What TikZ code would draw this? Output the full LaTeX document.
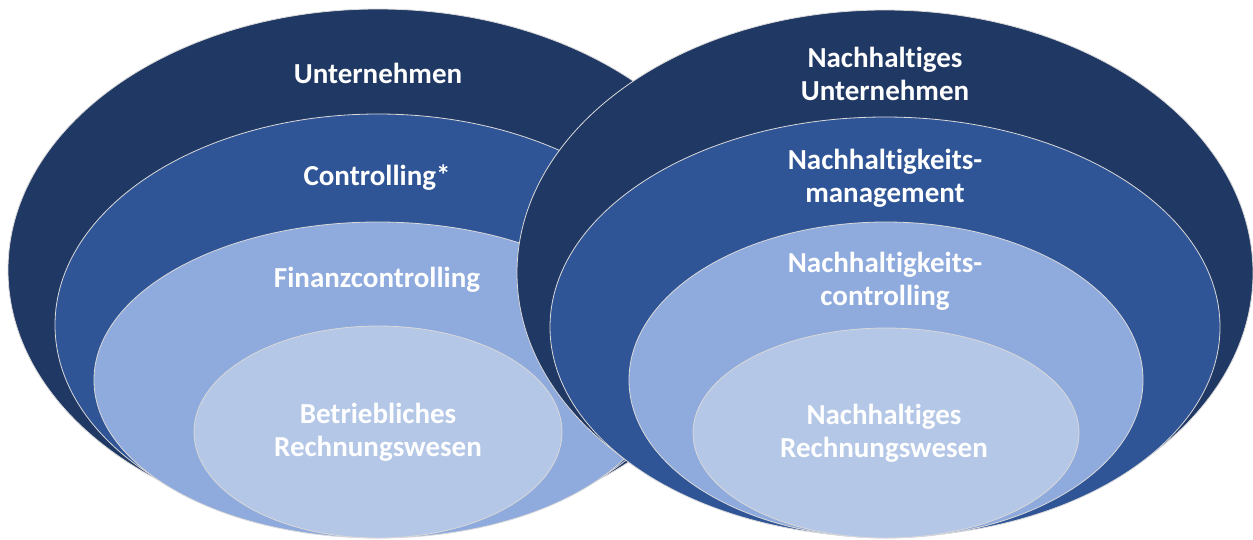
\documentclass[tikz,border=0pt]{standalone}
\usepackage{fontspec}
\setmainfont[Ligatures=NoCommon]{Carlito}
\definecolor{ringone}{HTML}{203864}
\definecolor{ringtwo}{HTML}{2F5597}
\definecolor{ringthree}{HTML}{8FAADC}
\definecolor{ringfour}{HTML}{B4C7E7}
\begin{document}
\begin{tikzpicture}[x=1pt,y=-1pt,
    ring/.style={draw=white!85!black,line width=.8pt},
    lbl/.style={text=white,font=\fontsize{29}{33}\selectfont\bfseries,align=center}]
  \useasboundingbox (0,0) rectangle (1253,539);
  % left: Unternehmen
  \filldraw[ring,fill=ringone] (378,270) ellipse [x radius=370,y radius=261];
  \filldraw[ring,fill=ringtwo] (378,325) ellipse [x radius=323,y radius=211];
  \filldraw[ring,fill=ringthree] (378,380) ellipse [x radius=284,y radius=158];
  \filldraw[ring,fill=ringfour] (378,432) ellipse [x radius=184,y radius=106];
  \node[lbl] (unt) at (378,73) {Unternehmen};
  \node[lbl] (ctrl) at (377,178) {Controlling*};
  \node[lbl] (fin) at (377,280) {Finanzcontrolling};
  \node[lbl] (rw) at (378,432) {Betriebliches\\Rechnungswesen};
  % right: Nachhaltiges Unternehmen
  \filldraw[ring,fill=ringone] (885,273) ellipse [x radius=368,y radius=263];
  \filldraw[ring,fill=ringtwo] (885,327) ellipse [x radius=335,y radius=210];
  \filldraw[ring,fill=ringthree] (886,380) ellipse [x radius=257,y radius=158];
  \filldraw[ring,fill=ringfour] (886,433) ellipse [x radius=193,y radius=105];
  \node[lbl] (nunt) at (885,74) {Nachhaltiges\\Unternehmen};
  \node[lbl] (nman) at (885,178) {Nachhaltigkeits-\\management};
  \node[lbl] (nctrl) at (885,281) {Nachhaltigkeits-\\controlling};
  \node[lbl] (nrw) at (884,433) {Nachhaltiges\\Rechnungswesen};
\end{tikzpicture}
\end{document}
